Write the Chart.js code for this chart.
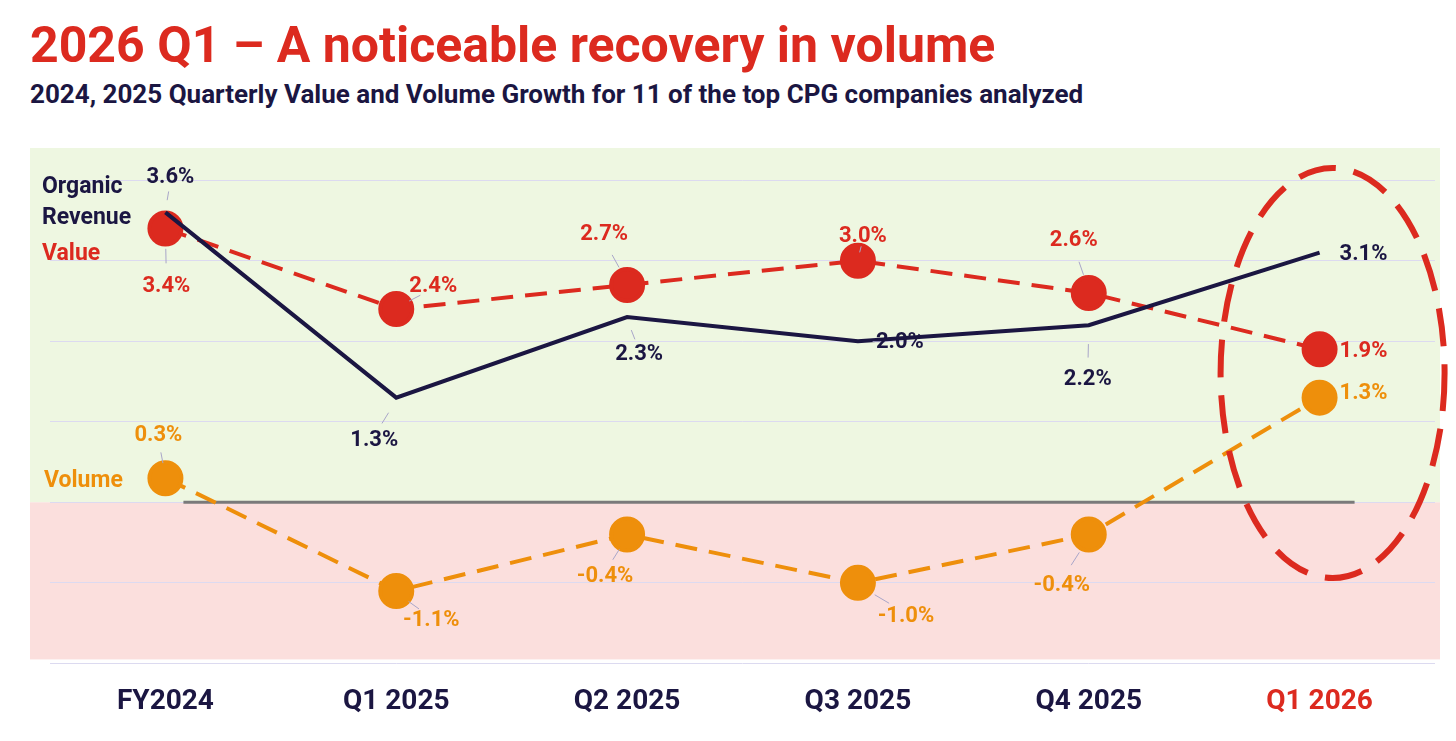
<!DOCTYPE html>
<html>
<head>
<meta charset="utf-8">
<script src="https://cdn.jsdelivr.net/npm/chart.js@4"></script>
<style>
  body { margin: 0; background: #fff; font-family: Roboto, sans-serif; }
  h1 { position: absolute; left: 30px; top: 16px; margin: 0; font-size: 50px; font-weight: 700; color: #dc2a1f; }
  h2 { position: absolute; left: 30px; top: 79px; margin: 0; font-size: 26px; font-weight: 700; color: #1b1642; }
  #wrap { position: absolute; left: 0; top: 120px; width: 1456px; height: 621px; }
</style>
</head>
<body>
<h1>2026 Q1 – A noticeable recovery in volume</h1>
<h2>2024, 2025 Quarterly Value and Volume Growth for 11 of the top CPG companies analyzed</h2>
<div id="wrap"><canvas id="chart"></canvas></div>
<script>
const categories = ['FY2024', 'Q1 2025', 'Q2 2025', 'Q3 2025', 'Q4 2025', 'Q1 2026'];
const organicRevenue = [3.6, 1.3, 2.3, 2.0, 2.2, 3.1];
const valueGrowth = [3.4, 2.4, 2.7, 3.0, 2.6, 1.9];
const volumeGrowth = [0.3, -1.1, -0.4, -1.0, -0.4, 1.3];

const NAVY = '#1b1642', RED = '#dc2a1f', ORANGE = '#ee8f0b';

// label offsets from each point [dx, dy, align]
const organicLabelPos = [[5, -35, 'center'], [-22, 43, 'center'], [12, 37, 'center'], [42, 1, 'center'], [-1, 54, 'center'], [20, 2, 'left']];
const valueLabelPos = [[1, 58, 'center'], [37, -23, 'center'], [-23, -50, 'center'], [5, -24, 'center'], [-15, -52, 'center'], [20, 2, 'left']];
const volumeLabelPos = [[-7, -43, 'center'], [35, 30, 'center'], [-22, 42, 'center'], [48, 34, 'center'], [-27, 51, 'center'], [20, -4, 'left']];

const decor = {
  id: 'decor',
  beforeDraw(chart) {
    const { ctx, chartArea: a, scales: { y } } = chart;
    const z = y.getPixelForValue(0);
    ctx.save();
    ctx.fillStyle = '#eef7e1';
    ctx.fillRect(30, a.top, 1410, z - a.top);
    ctx.fillStyle = '#fbdfdd';
    ctx.fillRect(30, z, 1410, a.bottom - 4 - z);
    ctx.restore();
  },
  beforeDatasetsDraw(chart) {
    const { ctx, scales: { x, y } } = chart;
    const z = y.getPixelForValue(0);
    ctx.save();
    ctx.strokeStyle = '#7a7a7a';
    ctx.lineWidth = 3;
    ctx.beginPath();
    ctx.moveTo(x.getPixelForValue(0) + 18, z);
    ctx.lineTo(x.getPixelForValue(5) + 35, z);
    ctx.stroke();
    ctx.restore();
  },
  afterDraw(chart) {
    const { ctx, scales: { x, y } } = chart;
    ctx.save();
    ctx.font = 'bold 22px Roboto';
    ctx.textBaseline = 'middle';
    const sets = [[0, organicRevenue, organicLabelPos, NAVY], [1, valueGrowth, valueLabelPos, RED], [2, volumeGrowth, volumeLabelPos, ORANGE]];
    sets.forEach(([di, data, pos, color]) => {
      const meta = chart.getDatasetMeta(di);
      data.forEach((v, i) => {
        const p = meta.data[i];
        const [dx, dy, al] = pos[i];
        const lx = p.x + dx, ly = p.y + dy;
        if (i < 5) {
          ctx.strokeStyle = '#a9a6c9';
          ctx.lineWidth = 1;
          ctx.beginPath();
          ctx.moveTo(p.x + dx * 0.35, p.y + dy * 0.35);
          ctx.lineTo(p.x + dx * 0.65, p.y + dy * 0.6);
          ctx.stroke();
        }
        ctx.fillStyle = color;
        ctx.textAlign = al;
        ctx.fillText(v.toFixed(1) + '%', lx, ly);
      });
    });
    ctx.textAlign = 'left';
    ctx.font = 'bold 23px Roboto';
    ctx.fillStyle = NAVY;
    ctx.fillText('Organic', 42, 67);
    ctx.fillText('Revenue', 42, 98);
    ctx.fillStyle = RED;
    ctx.fillText('Value', 42, 134);
    ctx.fillStyle = ORANGE;
    ctx.fillText('Volume', 44, 361);
    // ellipse around latest quarter
    const cx = x.getPixelForValue(5) + 13;
    ctx.strokeStyle = RED;
    ctx.lineWidth = 6;
    ctx.setLineDash([38, 18]);
    ctx.beginPath();
    ctx.ellipse(cx, 253, 112, 205, 0, 0, Math.PI * 2);
    ctx.stroke();
    ctx.restore();
  }
};

new Chart(document.getElementById('chart'), {
  type: 'line',
  data: {
    labels: categories,
    datasets: [
      { label: 'Organic Revenue', data: organicRevenue, borderColor: NAVY, borderWidth: 4, pointRadius: 0, tension: 0 },
      { label: 'Value', data: valueGrowth, borderColor: RED, borderWidth: 4, borderDash: [22, 12], pointRadius: 16, pointBackgroundColor: RED, pointBorderColor: RED, tension: 0 },
      { label: 'Volume', data: volumeGrowth, borderColor: ORANGE, borderWidth: 4, borderDash: [22, 12], pointRadius: 16, pointBackgroundColor: ORANGE, pointBorderColor: ORANGE, tension: 0 }
    ]
  },
  options: {
    responsive: true,
    maintainAspectRatio: false,
    animation: false,
    layout: { padding: { left: 50, right: 21, top: 28, bottom: 8 } },
    plugins: { legend: { display: false }, tooltip: { enabled: false } },
    scales: {
      x: {
        offset: true,
        grid: { display: false },
        border: { display: false },
        ticks: {
          padding: 14,
          font: { family: 'Roboto', size: 28, weight: 'bold' },
          color: (c) => c.index === 5 ? RED : NAVY
        }
      },
      y: {
        min: -2, max: 4.4,
        afterBuildTicks: (s) => { s.ticks = [-2, -1, 0, 1, 2, 3, 4].map(v => ({ value: v })); },
        ticks: { display: false },
        border: { display: false },
        grid: { color: '#dcdaf0', lineWidth: 1, drawTicks: false }
      }
    }
  },
  plugins: [decor]
});
</script>
</body>
</html>
